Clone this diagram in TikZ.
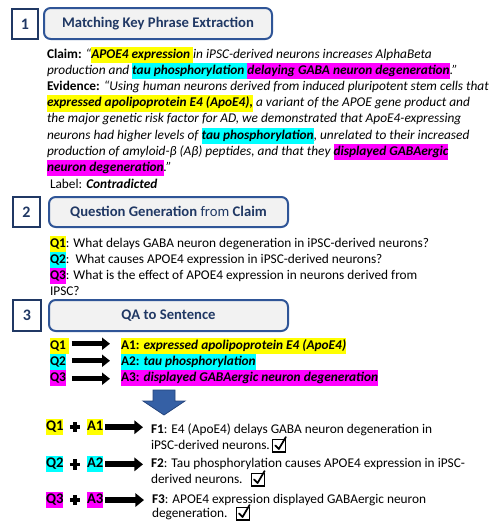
\documentclass[tikz,border=0pt]{standalone}
\usepackage{fontspec}
\setmainfont{Carlito}
\usetikzlibrary{arrows.meta}
\definecolor{navy}{HTML}{203864}
\definecolor{boxblue}{HTML}{2F5597}
\definecolor{boxfill}{HTML}{F2F2F2}
\definecolor{arrowblue}{HTML}{3560A5}
\definecolor{arrowedge}{HTML}{25447C}
\definecolor{hly}{HTML}{FFFF00}
\definecolor{hlc}{HTML}{00FFFF}
\definecolor{hlm}{HTML}{FF00FF}
\newcommand\myhl[2]{{\setlength{\fboxsep}{0pt}\colorbox{#1}{\strut #2}}}
\begin{document}
\begin{tikzpicture}[x=0.75pt,y=-0.75pt,
  every node/.style={inner sep=0pt, outer sep=0pt},
  txt/.style={anchor=base west, font=\fontsize{10}{12.2}\selectfont},
  lbl/.style={anchor=base west, font=\fontsize{11}{12.2}\selectfont},
  numbox/.style={draw=navy, line width=1.4pt, fill=white, text=navy, font=\fontsize{12}{12}\selectfont\bfseries},
  titlebox/.style={draw=boxblue, line width=1.5pt, fill=boxfill, rounded corners=5pt, text=navy, font=\fontsize{11}{12}\selectfont},
  arrS/.style={line width=3.6pt, -{Triangle[length=6pt,width=9pt]}},
  arrF/.style={line width=4.6pt, -{Triangle[length=6.5pt,width=10pt]}},
  plusbar/.style={line width=2.8pt},
  chkbox/.style={draw, line width=0.9pt, minimum width=9.5pt, minimum height=9.5pt, anchor=south west},
  tick/.style={line width=1.3pt, line cap=round, line join=round}
]
\useasboundingbox (0,0) rectangle (494,521);

% ---------- section 1
\node[numbox, minimum width=19.5pt, minimum height=22.5pt] (n1) at (25,24) {1};
\node[titlebox, minimum width=171pt, minimum height=23.25pt] (t1) at (158,23.5) {\bfseries Matching Key Phrase Extraction};

\node[txt] (c1) at (47,58) {\textbf{Claim:} \textit{“\myhl{hly}{\textbf{APOE4 expression }}in iPSC-derived neurons increases AlphaBeta}};
\node[txt] (c2) at (47,74.3) {\textit{production and \myhl{hlc}{\textbf{tau phosphorylation }}\myhl{hlm}{\textbf{delaying GABA neuron degeneration}}.”}};
\node[txt] (c3) at (47,90.5) {\textbf{Evidence:} \textit{“Using human neurons derived from induced pluripotent stem cells that}};
\node[txt] (c4) at (47,106.7) {\textit{\myhl{hly}{\textbf{expressed apolipoprotein E4 (ApoE4),}} a variant of the APOE gene product and}};
\node[txt] (c5) at (47,122.9) {\textit{the major genetic risk factor for AD, we demonstrated that ApoE4-expressing}};
\node[txt] (c6) at (47,139.1) {\textit{neurons had higher levels of \myhl{hlc}{\textbf{tau phosphorylation}}, unrelated to their increased}};
\node[txt] (c7) at (47,155.3) {\textit{production of amyloid-β (Aβ) peptides, and that they \myhl{hlm}{\textbf{displayed GABAergic}}}};
\node[txt] (c8) at (47,171.5) {\textit{\myhl{hlm}{\textbf{neuron degeneration}}.”}};
\node[txt] (lab) at (50,188) {Label: \textbf{\textit{Contradicted}}};

% ---------- section 2
\node[numbox, minimum width=20.25pt, minimum height=22.5pt] (n2) at (26.5,212) {2};
\node[titlebox, minimum width=179.25pt, minimum height=22.5pt] (t2) at (168.5,212) {\textbf{Question Generation} from \textbf{Claim}};

\node[txt] (g1) at (50,247) {\myhl{hly}{\textbf{Q1}}: What delays GABA neuron degeneration in iPSC-derived neurons?};
\node[txt] (g2) at (50,263) {\myhl{hlc}{\textbf{Q2}}:\ \ What causes APOE4 expression in iPSC-derived neurons?};
\node[txt] (g3) at (50,279) {\myhl{hlm}{\textbf{Q3}}: What is the effect of APOE4 expression in neurons derived from};
\node[txt] (g4) at (50,295) {IPSC?};

% ---------- section 3
\node[numbox, minimum width=21pt, minimum height=23.25pt] (n3) at (27,315.5) {3};
\node[titlebox, minimum width=179.25pt, minimum height=23.25pt] (t3) at (168.5,315.5) {\bfseries QA to Sentence};

\node[txt] (q1) at (50,349) {\myhl{hly}{\textbf{Q1\hspace{2pt}}}};
\node[txt] (a1) at (121,349) {\myhl{hly}{\textbf{A1: \textit{expressed apolipoprotein E4 (ApoE4)}}}};
\node[txt] (q2) at (50,365) {\myhl{hlc}{\textbf{Q2}}};
\node[txt] (a2) at (121,365) {\myhl{hlc}{\textbf{A2: \textit{tau phosphorylation}}}};
\node[txt] (q3) at (50,381) {\myhl{hlm}{\textbf{Q3}}};
\node[txt] (a3) at (121,381) {\myhl{hlm}{\textbf{A3: \textit{displayed GABAergic neuron degeneration}}}};

\draw[arrS] ([shift={(3,-2)}]q1.east) -- ([shift={(-11,-2)}]a1.west);
\draw[arrS] ([shift={(6,-1)}]q2.east) -- ([shift={(-11,-1)}]a2.west);
\draw[arrS] ([shift={(6,1)}]q3.east) -- ([shift={(-11,1)}]a3.west);

% big arrow
\filldraw[fill=arrowblue, draw=arrowedge, line width=0.6pt]
  (153,390) -- (175,390) -- (175,401) -- (185,401) -- (164,415) -- (143,401) -- (153,401) -- cycle;

% ---------- final sentences
\node[lbl] (fq1) at (46,430.5) {\myhl{hly}{\textbf{Q1}}};
\coordinate (p1) at (75,427);
\node[lbl] (fa1) at (87,430.5) {\myhl{hly}{\textbf{A1}}};
\node[txt] (f1a) at (151,433) {\textbf{F1}: E4 (ApoE4) delays GABA neuron degeneration in};
\node[txt] (f1b) at (151,449) {iPSC-derived neurons.};
\node[chkbox] (k1) at ([shift={(3,3)}]f1b.base east) {};
\draw[arrF] ([xshift=1.5pt]fa1.east) -- ([xshift=-6pt]fa1.east -| f1a.west);

\node[lbl] (fq2) at (46,467.6) {\myhl{hlc}{\textbf{Q2}}};
\coordinate (p2) at (75,464.5);
\node[lbl] (fa2) at (87,467.6) {\myhl{hlc}{\textbf{A2}}};
\node[txt] (f2a) at (151,467) {\textbf{F2}: Tau phosphorylation causes APOE4 expression in iPSC-};
\node[txt] (f2b) at (151,483) {derived neurons.};
\node[chkbox] (k2) at ([shift={(9,3)}]f2b.base east) {};
\draw[arrF] ([xshift=1.5pt]fa2.east) -- ([xshift=-6pt]fa2.east -| f2a.west);

\node[lbl] (fq3) at (46,503.3) {\myhl{hlm}{\textbf{Q3}}};
\coordinate (p3) at (75,500);
\node[lbl] (fa3) at (87,503.3) {\myhl{hlm}{\textbf{A3}}};
\node[txt] (f3a) at (152,503) {\textbf{F3}: APOE4 expression displayed GABAergic neuron};
\node[txt] (f3b) at (152,517) {degeneration.};
\node[chkbox] (k3) at ([shift={(9,3)}]f3b.base east) {};
\draw[arrF] ([xshift=1.5pt]fa3.east) -- ([xshift=-6pt]fa3.east -| f3a.west);

% check marks
\foreach \k in {k1,k2,k3}{
  \draw[tick] ([shift={(2.5,-6.5)}]\k.south west) -- ([shift={(6,-3)}]\k.south west) -- ([shift={(13,-15)}]\k.south west);
}

% plus signs
\foreach \p in {p1,p2,p3}{
  \draw[plusbar] ([xshift=-3.9pt]\p) -- ([xshift=3.9pt]\p);
  \draw[plusbar] ([yshift=-3.9pt]\p) -- ([yshift=3.9pt]\p);
}
\end{tikzpicture}
\end{document}
